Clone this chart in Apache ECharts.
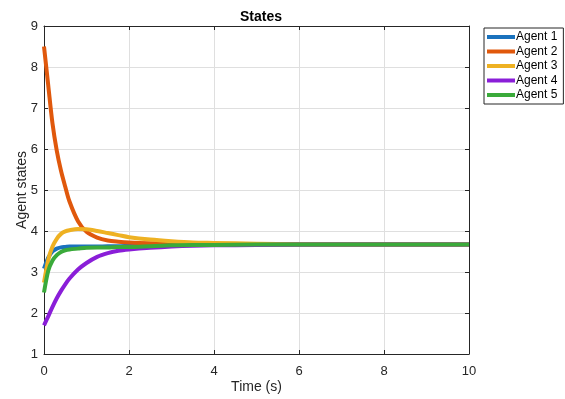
<!DOCTYPE html>
<html>
<head>
<meta charset="utf-8">
<script src="https://cdn.jsdelivr.net/npm/echarts@6/dist/echarts.min.js"></script>
<style>
html,body{margin:0;padding:0;background:#fff;}
#chart{width:565px;height:399px;}
</style>
</head>
<body>
<div id="chart"></div>
<script>
const seriesNames = ['Agent 1', 'Agent 2', 'Agent 3', 'Agent 4', 'Agent 5'];
const colors = ['#1a72bd', '#e0580c', '#eeb122', '#8a1ed8', '#3aaa3a'];
const time = [0, 0.1, 0.2, 0.3, 0.4, 0.5, 0.6, 0.8, 1.0, 1.25, 1.5, 1.75, 2, 2.5, 3, 3.5, 4, 5, 6, 7, 8, 9, 10];
const agent1 = [3.08, 3.35, 3.50, 3.57, 3.60, 3.61, 3.62, 3.62, 3.62, 3.62, 3.63, 3.63, 3.64, 3.65, 3.66, 3.66, 3.67, 3.67, 3.67, 3.67, 3.67, 3.67, 3.67];
const agent2 = [8.50, 7.55, 6.62, 5.96, 5.47, 5.08, 4.72, 4.24, 3.98, 3.84, 3.77, 3.74, 3.72, 3.70, 3.69, 3.68, 3.68, 3.67, 3.67, 3.67, 3.67, 3.67, 3.67];
const agent3 = [2.74, 3.30, 3.62, 3.81, 3.93, 3.99, 4.02, 4.05, 4.04, 4.00, 3.95, 3.90, 3.85, 3.79, 3.75, 3.72, 3.71, 3.69, 3.68, 3.67, 3.67, 3.67, 3.67];
const agent4 = [1.70, 1.92, 2.15, 2.36, 2.54, 2.70, 2.84, 3.06, 3.22, 3.37, 3.46, 3.52, 3.55, 3.59, 3.62, 3.64, 3.65, 3.66, 3.67, 3.67, 3.67, 3.67, 3.67];
const agent5 = [2.50, 3.03, 3.28, 3.41, 3.49, 3.53, 3.55, 3.57, 3.59, 3.60, 3.60, 3.61, 3.61, 3.63, 3.65, 3.66, 3.66, 3.67, 3.67, 3.67, 3.67, 3.67, 3.67];
const xTicks = [0, 2, 4, 6, 8, 10];
const yTicks = [1, 2, 3, 4, 5, 6, 7, 8, 9];

const allValues = [agent1, agent2, agent3, agent4, agent5];
const font = 'Liberation Sans, Arial, sans-serif';
const txt = '#262626';

const chart = echarts.init(document.getElementById('chart'), null, {renderer: 'canvas'});
const series = allValues.map((vals, i) => ({
  name: seriesNames[i],
  type: 'line',
  data: time.map((t, j) => [t, vals[j]]),
  showSymbol: false,
  symbol: 'none',
  smooth: 0.3,
  lineStyle: {width: 4, color: colors[i], cap: 'butt', join: 'round'},
  itemStyle: {color: colors[i]},
  animation: false,
  z: 2 + i
}));

const axisCommon = {
  axisLine: {show: true, onZero: false, lineStyle: {color: txt, width: 1}},
  axisTick: {show: true, inside: true, length: 4, lineStyle: {color: txt}},
};

chart.setOption({
  animation: false,
  backgroundColor: '#fff',
  title: {
    text: 'States', left: 256, top: 5, textAlign: 'center',
    textStyle: {fontFamily: font, fontSize: 14, fontWeight: 'bold', color: '#000'}
  },
  legend: {
    left: 484, top: 28, orient: 'vertical',
    data: seriesNames,
    icon: 'rect', itemWidth: 28, itemHeight: 4, itemGap: 2.5,
    padding: [3, 6, 3, 3],
    borderColor: '#262626', borderWidth: 1, backgroundColor: '#fff',
    textStyle: {fontFamily: font, fontSize: 12, color: '#000', padding: [0, 0, 0, -4]}
  },
  grid: {left: 44, top: 26, width: 425, height: 333, containLabel: false},
  xAxis: [{
    type: 'value', min: 0, max: 10, interval: 2,
    name: 'Time (s)', nameLocation: 'middle', nameGap: 26, nameMoveOverlap: false,
    nameTextStyle: {fontFamily: font, fontSize: 14, color: txt},
    axisLabel: {fontFamily: font, fontSize: 13, color: txt, margin: 11,
      formatter: v => xTicks.includes(v) ? String(v) : ''},
    splitLine: {show: true, lineStyle: {color: '#dfdfdf', width: 1}},
    ...axisCommon
  }, {
    type: 'value', min: 0, max: 10, interval: 2, position: 'top',
    axisLabel: {show: false}, splitLine: {show: false},
    ...axisCommon
  }],
  yAxis: [{
    type: 'value', min: 1, max: 9, interval: 1,
    name: 'Agent states', nameLocation: 'middle', nameGap: 15, nameMoveOverlap: false,
    nameTextStyle: {fontFamily: font, fontSize: 14, color: txt},
    axisLabel: {fontFamily: font, fontSize: 13, color: txt, margin: 6,
      formatter: v => yTicks.includes(v) ? String(v) : ''},
    splitLine: {show: true, lineStyle: {color: '#dfdfdf', width: 1}},
    ...axisCommon
  }, {
    type: 'value', min: 1, max: 9, interval: 1, position: 'right',
    axisLabel: {show: false}, splitLine: {show: false},
    ...axisCommon
  }],
  series: series
});
</script>
</body>
</html>
